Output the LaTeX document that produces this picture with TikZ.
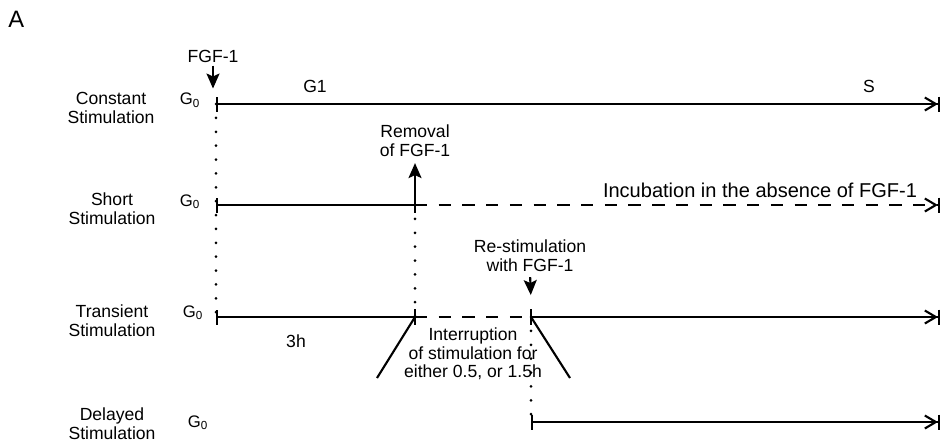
\documentclass[tikz,border=0pt]{standalone}
\usepackage{fontspec}
\setmainfont{Liberation Sans}
\usetikzlibrary{arrows.meta}

\tikzset{
  rowlbl/.style={font=\fontsize{10}{10.6}\selectfont, align=center, inner sep=0pt},
  txt/.style={font=\fontsize{10}{10.6}\selectfont, align=center, inner sep=0pt},
  gzero/.style={font=\fontsize{9.5}{10}\selectfont, inner sep=0pt, anchor=base},
  tline/.style={line width=1.2pt},
  startbar/.style={{Bar[width=3mm]}-},
  endbar/.style={-{Straight Barb[length=2.2mm,width=2.6mm]Bar[width=3mm]}},
  bothbars/.style={{Bar[width=3mm]}-{Straight Barb[length=2.2mm,width=2.6mm]Bar[width=3mm]}},
  brokenline/.style={line width=1.2pt, dash pattern=on 7pt off 6.5pt},
  dotline/.style={line width=1.7pt, line cap=round, dash pattern=on 0pt off 7.9pt},
  push/.style={-{Stealth[length=3mm,width=2.6mm,inset=0.6mm]}, line width=1.2pt},
  midtick/.style={line width=1.2pt}
}

\begin{document}
\begin{tikzpicture}[x=0.02cm, y=-0.02cm]
  \useasboundingbox (0,0) rectangle (945,447);

  % time points on the four rows
  \coordinate (c0) at (216,104); \coordinate (cE) at (940,104);
  \coordinate (s0) at (216,205); \coordinate (sR) at (415,205); \coordinate (sE) at (940,205);
  \coordinate (t0) at (216,317); \coordinate (tR) at (415,317); \coordinate (tS) at (531,317); \coordinate (tE) at (940,317);
  \coordinate (d0) at (531,422); \coordinate (dE) at (940,422);

  % panel letter and row labels
  \node[anchor=base west, inner sep=0pt, font=\fontsize{13.5}{15}\selectfont] (panelA) at (8,27) {A};
  \node[rowlbl] (lblConst) at (111,108) {Constant\\Stimulation};
  \node[rowlbl] (lblShort) at (112,209) {Short\\Stimulation};
  \node[rowlbl] (lblTrans) at (112,320.5) {Transient\\Stimulation};
  \node[rowlbl] (lblDelay) at (112,423.5) {Delayed\\Stimulation};

  \node[gzero] (gC) at (190,104.5) {G\textsubscript{0}};
  \node[gzero] (gS) at (190,206) {G\textsubscript{0}};
  \node[gzero] (gT) at (193,317) {G\textsubscript{0}};
  \node[gzero] (gD) at (198,427) {G\textsubscript{0}};

  % texts
  \node[txt, anchor=base] (tFGF) at (213,62) {FGF-1};
  \node[txt, anchor=base] (tG1) at (315,92) {G1};
  \node[txt, anchor=base] (tSph) at (869,92) {S};
  \node[txt] (tRemoval) at (415,141) {Removal\\of FGF-1};
  \node[txt, anchor=base, font=\fontsize{11.4}{12}\selectfont] (tIncub) at (760,197) {Incubation in the absence of FGF-1};
  \node[txt] (tRestim) at (530,256) {Re-stimulation\\with FGF-1};
  \node[txt, anchor=base] (t3h) at (296,347) {3h};
  \node[txt] (tInterr) at (473,354) {Interruption\\of stimulation for\\either 0.5, or 1.5h};

  % dotted guides
  \draw[dotline] (c0) -- (t0);
  \draw[dotline] (sR) -- (tR);
  \draw[dotline] (tS) -- (d0);

  % constant stimulation
  \draw[tline, bothbars] (c0) -- (cE);

  % short stimulation
  \draw[tline, startbar] (s0) -- (sR);
  \draw[brokenline, endbar] (sR) -- (sE);
  \draw[midtick] (sR) ++(0,-8) -- ++(0,16);

  % transient stimulation
  \draw[tline, startbar] (t0) -- (tR);
  \draw[brokenline] (tR) -- (tS);
  \draw[tline, endbar] (tS) -- (tE);
  \draw[midtick] (tR) ++(0,-8) -- ++(0,16);
  \draw[midtick] (tS) ++(0,-8) -- ++(0,16);
  \draw[tline] (tR) -- ++(-38,61);
  \draw[tline] (tS) -- ++(39,61);

  % delayed stimulation
  \draw[tline, bothbars] (d0) -- (dE);

  % arrows
  \draw[push, shorten <=1.7pt] (tFGF.south) -- ++(0,26);
  \draw[push, shorten >=3.4pt] (sR) ++(0,-8) -- (tRemoval.south);
  \draw[push, shorten <=2.8pt, shorten >=4.5pt] (tRestim.south) -- ([yshift=8pt]tS);
\end{tikzpicture}
\end{document}
